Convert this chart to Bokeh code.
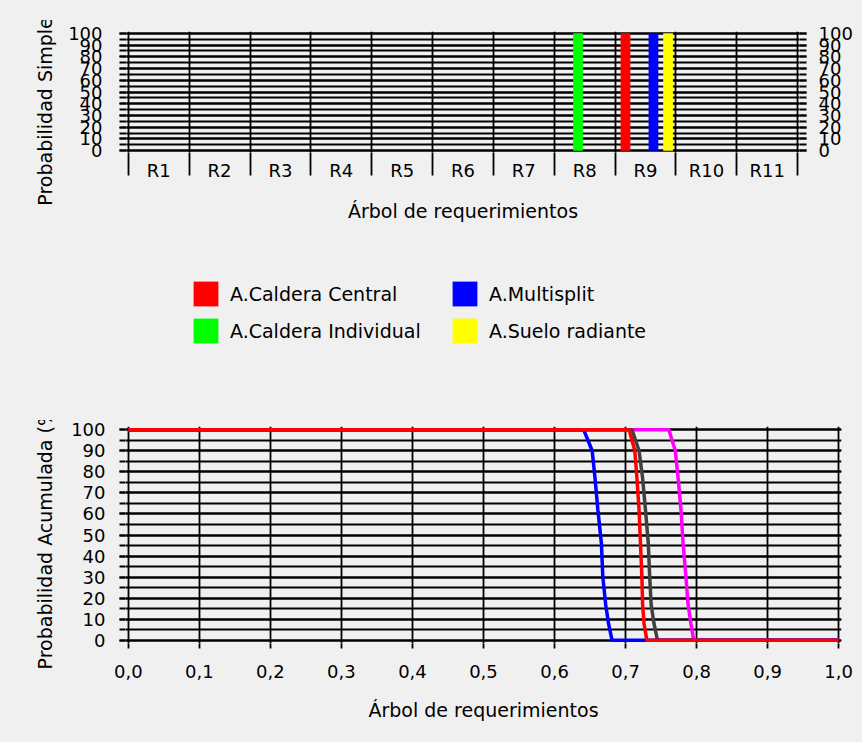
from bokeh.plotting import figure
from bokeh.models import (Range1d, FixedTicker, LinearAxis, Legend, LegendItem,
                          CustomJSTickFormatter, ColumnDataSource, Spacer)
from bokeh.layouts import column
from bokeh.embed import file_html
from bokeh.resources import INLINE

# ---- data: simple probability per requirement (top chart) ----
categories = ["R1", "R2", "R3", "R4", "R5", "R6", "R7", "R8", "R9", "R10", "R11"]
simple_central = [0, 0, 0, 0, 0, 0, 0, 0, 100, 0, 0]
simple_individual = [0, 0, 0, 0, 0, 0, 0, 100, 0, 0, 0]
simple_multisplit = [0, 0, 0, 0, 0, 0, 0, 0, 100, 0, 0]
simple_suelo = [0, 0, 0, 0, 0, 0, 0, 0, 100, 0, 0]

series_names = ["A.Caldera Central", "A.Caldera Individual", "A.Multisplit", "A.Suelo radiante"]
series_colors = ["#ff0000", "#00ff00", "#0000ff", "#ffff00"]

y_ticks = [0, 10, 20, 30, 40, 50, 60, 70, 80, 90, 100]
y_minor = [0, 5, 10, 15, 20, 25, 30, 35, 40, 45, 50, 55, 60, 65, 70, 75, 80, 85, 90, 95, 100]
x_ticks_bottom = [0.0, 0.1, 0.2, 0.3, 0.4, 0.5, 0.6, 0.7, 0.8, 0.9, 1.0]

# ---- data: cumulative probability curves (bottom chart) ----
acum_blue_x = [0.0, 0.641, 0.653, 0.657, 0.661, 0.666, 0.668, 0.672, 0.676, 0.681, 1.0]
acum_blue_y = [100, 100, 90, 77, 62, 46, 30, 17, 8, 0, 0]
acum_gray_x = [0.0, 0.709, 0.719, 0.724, 0.728, 0.732, 0.734, 0.736, 0.740, 0.745, 1.0]
acum_gray_y = [100, 100, 90, 77, 62, 46, 30, 17, 8, 0, 0]
acum_magenta_x = [0.0, 0.761, 0.770, 0.774, 0.778, 0.781, 0.785, 0.788, 0.792, 0.796, 1.0]
acum_magenta_y = [100, 100, 90, 77, 62, 46, 30, 17, 8, 0, 0]
acum_red_x = [0.0, 0.705, 0.713, 0.716, 0.719, 0.721, 0.723, 0.724, 0.726, 0.730, 1.0]
acum_red_y = [100, 100, 90, 77, 62, 46, 30, 17, 8, 0, 0]

BG = "#f0f0f0"
FONT = "DejaVu Sans"
TICK_FS = "18px"
TITLE_FS = "19px"
GRID_W = 1.8


def style_axis(ax, standoff):
    ax.axis_line_color = None
    ax.major_label_text_font = FONT
    ax.major_label_text_font_size = TICK_FS
    ax.major_label_text_color = "black"
    ax.axis_label_text_font = FONT
    ax.axis_label_text_font_size = TITLE_FS
    ax.axis_label_text_font_style = "normal"
    ax.axis_label_text_color = "black"
    ax.major_label_standoff = standoff
    ax.major_tick_line_color = "black"
    ax.minor_tick_line_color = "black"
    ax.major_tick_line_width = GRID_W
    ax.minor_tick_line_width = GRID_W


# ---------------- top chart ----------------
n = len(categories)
top = figure(width=862, height=230, output_backend="svg", toolbar_location=None,
             x_range=Range1d(-0.03, n + 0.03), y_range=Range1d(-1.5, 101.5),
             min_border_left=126, min_border_right=63, min_border_top=11,
             min_border_bottom=98, frame_align=False,
             background_fill_color=BG, border_fill_color=BG, outline_line_color=None,
             x_axis_label="Árbol de requerimientos",
             y_axis_label="Probabilidad Simple (%)")

offsets = [-0.33, -0.11, 0.13, 0.37]
simple_series = [simple_central, simple_individual, simple_multisplit, simple_suelo]
bar_sources = []
for vals, off, col in zip(simple_series, offsets, series_colors):
    src = ColumnDataSource(dict(x=[i + 0.5 + off for i in range(n)], top=vals))
    bar_sources.append(src)
    top.vbar(x="x", top="top", bottom=0, width=0.16, source=src,
             fill_color=col, line_color=None)

# y axes (left and right)
yax = top.yaxis[0]
yax.ticker = FixedTicker(ticks=y_ticks, minor_ticks=y_minor)
style_axis(yax, 17)
yax.major_tick_out = 7
yax.minor_tick_out = 7
yax.major_tick_in = 0
yax.minor_tick_in = 0
yax.axis_label_standoff = 9

yright = LinearAxis(ticker=FixedTicker(ticks=y_ticks, minor_ticks=y_minor))
style_axis(yright, 12)
yright.major_tick_out = 7
yright.minor_tick_out = 7
yright.major_tick_in = 0
yright.minor_tick_in = 0
top.add_layout(yright, "right")

# x axis: labels at category centres, long ticks at the boundaries
xax = top.xaxis[0]
xax.ticker = FixedTicker(ticks=[i + 0.5 for i in range(n)], minor_ticks=list(range(n + 1)))
xax.formatter = CustomJSTickFormatter(args=dict(cats=categories),
                                      code="return cats[Math.floor(tick)];")
style_axis(xax, -16)
xax.major_tick_out = 0
xax.major_tick_in = 0
xax.minor_tick_out = 23
xax.minor_tick_in = 0
xax.axis_label_standoff = 16

top.xgrid.ticker = FixedTicker(ticks=list(range(n + 1)))
top.xgrid.grid_line_color = "black"
top.xgrid.grid_line_width = GRID_W
top.ygrid.grid_line_color = "black"
top.ygrid.grid_line_width = GRID_W
top.ygrid.minor_grid_line_color = "black"
top.ygrid.minor_grid_line_width = GRID_W

# ---------------- legend strip ----------------
# hidden copies of the bar renderers supply the legend swatches
lg = figure(width=862, height=170, output_backend="svg", toolbar_location=None,
            x_range=Range1d(-0.03, n + 0.03), y_range=Range1d(-1.5, 101.5),
            x_axis_type=None, y_axis_type=None, min_border=0,
            min_border_left=0, min_border_right=0, min_border_top=0, min_border_bottom=0,
            frame_align=False,
            background_fill_color=BG, border_fill_color=BG, outline_line_color=None)
swatches = []
for src, col in zip(bar_sources, series_colors):
    swatches.append(lg.vbar(x="x", top="top", bottom=0, width=0.16, source=src,
                            fill_color=col, line_color=None, visible=False))
legend = Legend(items=[LegendItem(label=name, renderers=[r])
                       for name, r in zip(series_names, swatches)],
                location=(190, 74), orientation="vertical", nrows=2,
                glyph_width=31, glyph_height=31, label_height=31, label_width=213,
                label_standoff=9, spacing=6, padding=0, margin=0,
                inactive_fill_alpha=0,
                border_line_color=None, background_fill_alpha=0,
                label_text_font=FONT, label_text_font_size=TITLE_FS,
                label_text_color="black")
lg.add_layout(legend)

# ---------------- bottom chart ----------------
bot = figure(width=862, height=322, output_backend="svg", toolbar_location=None,
             x_range=Range1d(-0.004, 1.004), y_range=Range1d(-1.5, 101.5),
             min_border_left=125, min_border_right=21, min_border_top=6,
             min_border_bottom=99, frame_align=False,
             background_fill_color=BG, border_fill_color=BG, outline_line_color=None,
             x_axis_label="Árbol de requerimientos",
             y_axis_label="Probabilidad Acumulada (%)")

bx = bot.xaxis[0]
bx.ticker = FixedTicker(ticks=x_ticks_bottom, minor_ticks=[])
bx.formatter = CustomJSTickFormatter(code="return tick.toFixed(1).replace('.', ',');")
style_axis(bx, 16)
bx.major_tick_out = 5
bx.major_tick_in = 0
bx.axis_label_standoff = 18

by = bot.yaxis[0]
by.ticker = FixedTicker(ticks=y_ticks, minor_ticks=y_minor)
style_axis(by, 14)
by.major_tick_out = 6
by.minor_tick_out = 6
by.major_tick_in = 0
by.minor_tick_in = 0
by.axis_label_standoff = 12

bot.xgrid.grid_line_color = "black"
bot.xgrid.grid_line_width = GRID_W
bot.ygrid.grid_line_color = "black"
bot.ygrid.grid_line_width = GRID_W
bot.ygrid.minor_grid_line_color = "black"
bot.ygrid.minor_grid_line_width = GRID_W

bot.line(acum_magenta_x, acum_magenta_y, line_color="#ff00ff", line_width=3.5)
bot.line(acum_gray_x, acum_gray_y, line_color="#404040", line_width=3.5)
bot.line(acum_blue_x, acum_blue_y, line_color="#0000ff", line_width=3.5)
bot.line(acum_red_x, acum_red_y, line_color="#ff0000", line_width=3.5)

pad = Spacer(width=862, height=20)
layout = column(pad, top, lg, bot, spacing=0, styles={"background-color": BG})

open("out.html", "w").write(file_html(layout, INLINE))
